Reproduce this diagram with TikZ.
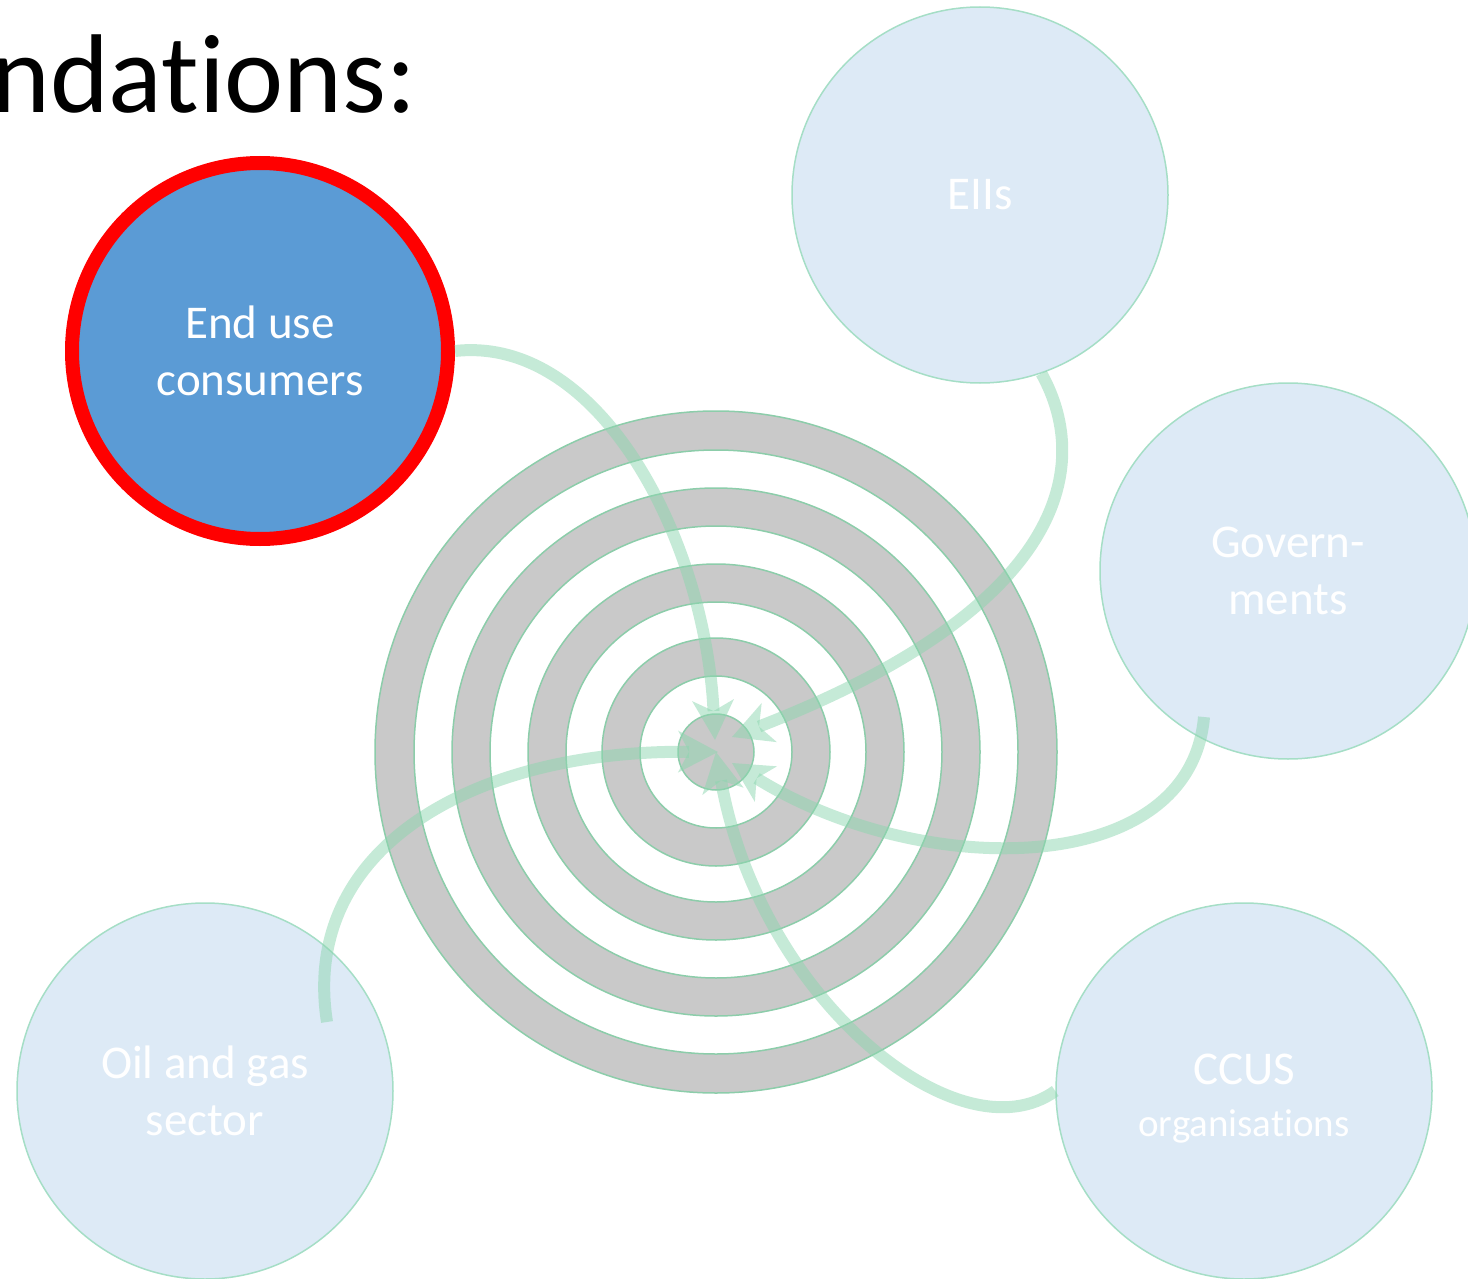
\documentclass[tikz,border=0pt]{standalone}
\usepackage{fontspec}
\setmainfont{Carlito}[Ligatures=NoCommon]
\usetikzlibrary{arrows.meta,calc}

\definecolor{ringgray}{RGB}{201,201,201}
\definecolor{ringline}{RGB}{140,205,170}
\definecolor{bubblefill}{RGB}{221,234,246}
\definecolor{bubbleline}{RGB}{165,222,198}
\definecolor{endfill}{RGB}{91,155,213}
\definecolor{flowgreen}{RGB}{140,214,175}

\begin{document}
\begin{tikzpicture}[x=1pt,y=-1pt,
  bubble/.style={circle,minimum size=376pt,inner sep=0pt,fill=bubblefill,
    draw=bubbleline,line width=1.5pt,text=white,align=center,
    font=\fontsize{47}{57}\selectfont},
  chosen/.style={bubble,fill=endfill,draw=red,line width=14pt},
  ring/.style={fill=ringgray,even odd rule,draw=ringline,line width=1.5pt},
  flow/.style={draw=flowgreen,draw opacity=.5,fill opacity=.5,line width=12pt,
    -{Stealth[length=40pt,width=42pt,inset=11pt,line width=0pt,fill=flowgreen]}}
]
\useasboundingbox (0,0) rectangle (1468,1279);

\node[anchor=base east,font=\fontsize{112}{130}\selectfont] (title) at (420,113) {ndations:};

% target
\coordinate (t) at (716,752);
\foreach \ro/\ri in {341/302,264/226,188/150,114/76}
  \path[ring] (t) circle (\ro) circle (\ri);
\path[ring] (t) circle (38);

% stakeholders
\node[chosen] (enduse) at (260,351) {End use\\consumers};
\node[bubble] (eii) at (980,195) {EIIs};
\node[bubble] (gov) at (1288,571) {Govern-\\ments};
\node[bubble] (ccus) at (1244,1091) {\rule{0pt}{46pt}CCUS\\[-5pt]{\fontsize{39}{44}\selectfont organisations}};
\node[bubble] (oil) at (205,1091) {Oil and gas\\sector};

\coordinate (govout) at ($(gov.center)+(-84,146)$);
\coordinate (oilout) at ($(oil.center)+(122,-69)$);

\draw[flow] (enduse.east) .. controls (600,335) and (705,540) .. ($(t)+(-1,-12)$);
\draw[flow] (eii.-71) .. controls (1095,470) and (1060,610) .. ($(t)+(16,-15)$);
\draw[flow] (govout) .. controls (1190,880) and (920,880) .. ($(t)+(16,11)$);
\draw[flow] (ccus.west) .. controls (960,1160) and (760,1000) .. (t);
\draw[flow] (oilout) .. controls (300,850) and (470,750) .. ($(t)+(2,0)$);
\end{tikzpicture}
\end{document}
